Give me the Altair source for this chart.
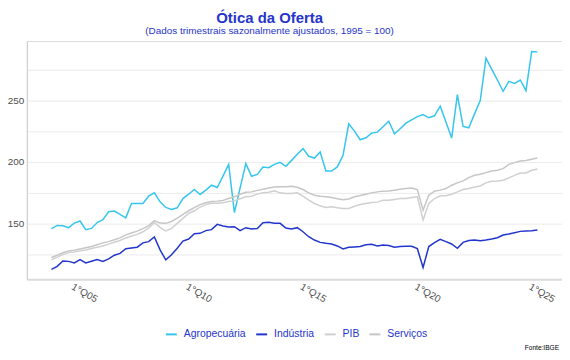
import altair as alt
import pandas as pd

# Quarterly series, 2004Q1 .. 2025Q2 (86 quarters), 1995 = 100
agro = [146.0, 148.6, 148.4, 146.8, 150.5, 152.2, 145.2, 146.2, 151.0, 153.2,
        159.7, 160.2, 157.5, 154.8, 166.4, 166.4, 166.4, 172.3, 175.0, 167.7,
        163.2, 161.6, 162.9, 170.4, 173.9, 177.7, 173.7, 177.2, 181.2, 179.3,
        188.5, 198.0, 159.0, 179.0, 198.7, 188.4, 190.0, 196.0, 195.4, 198.1,
        199.7, 196.5, 201.3, 206.2, 210.8, 204.6, 203.2, 208.1, 192.7, 192.7,
        196.0, 205.4, 230.9, 225.0, 218.0, 219.6, 223.4, 224.2, 228.5, 233.0,
        222.8, 226.9, 231.5, 234.1, 236.8, 238.4, 235.8, 237.4, 245.2, 232.3,
        219.4, 254.6, 228.8, 227.7, 239.0, 249.7, 284.1, 275.3, 266.4, 257.3,
        265.3, 263.7, 266.4, 257.8, 289.5, 289.2]

industria = [113.0, 115.5, 119.8, 119.5, 118.2, 121.0, 118.2, 119.6, 121.0, 119.4,
             121.5, 124.5, 126.0, 129.8, 130.4, 131.0, 134.5, 135.5, 139.3, 128.8,
             120.7, 124.8, 130.1, 136.0, 137.6, 141.9, 142.2, 144.4, 145.2, 149.5,
             148.1, 147.3, 147.6, 144.4, 146.8, 145.7, 146.2, 150.8, 151.1, 150.3,
             150.3, 146.5, 145.7, 146.8, 143.5, 139.5, 136.8, 134.9, 134.1, 133.6,
             132.0, 129.6, 130.9, 131.2, 131.5, 133.0, 133.3, 132.0, 132.8, 132.3,
             130.9, 131.5, 131.7, 131.7, 129.8, 114.5, 131.5, 134.7, 137.4, 135.5,
             133.6, 130.1, 134.9, 136.4, 136.8, 136.3, 136.8, 137.6, 138.7, 140.9,
             141.7, 142.7, 143.8, 144.1, 144.4, 144.9]

pib = [120.7, 123.0, 125.0, 126.6, 127.0, 128.0, 128.8, 130.0, 131.0, 132.0,
       133.5, 135.0, 136.4, 138.5, 140.0, 141.4, 143.5, 146.5, 151.0, 147.0,
       144.1, 146.2, 150.3, 154.3, 158.3, 160.5, 163.5, 165.5, 166.5, 166.5,
       166.9, 168.0, 168.5, 170.2, 171.8, 172.3, 174.0, 175.0, 175.5, 176.6,
       175.0, 174.4, 174.4, 175.0, 172.3, 169.1, 166.4, 164.5, 163.2, 163.7,
       162.9, 162.4, 162.4, 164.2, 165.6, 166.4, 167.2, 167.5, 169.1, 169.1,
       169.6, 170.4, 170.4, 171.2, 171.8, 153.0, 166.4, 170.4, 172.6, 172.6,
       173.9, 175.8, 177.7, 178.5, 179.8, 180.6, 183.1, 184.4, 184.7, 185.2,
       187.1, 189.2, 191.1, 191.1, 193.3, 194.4]

servicos = [122.6, 124.5, 126.5, 128.0, 128.5, 129.5, 130.5, 131.5, 133.0, 134.5,
            135.5, 137.0, 138.5, 141.0, 142.5, 144.0, 146.0, 148.5, 152.5, 150.5,
            150.3, 151.8, 154.5, 157.5, 160.5, 163.0, 165.5, 167.0, 168.0, 168.3,
            168.8, 170.5, 171.8, 173.9, 175.5, 175.8, 177.0, 178.0, 179.0, 179.8,
            180.0, 180.0, 180.3, 179.5, 177.7, 175.0, 173.1, 172.3, 171.8, 171.2,
            170.2, 169.5, 170.0, 171.8, 172.8, 173.9, 175.0, 175.8, 176.4, 176.5,
            177.2, 178.0, 178.5, 179.0, 177.7, 161.0, 173.1, 176.3, 177.2, 178.5,
            181.2, 183.1, 184.7, 187.4, 189.2, 190.1, 191.4, 192.7, 193.3, 194.6,
            198.1, 199.5, 200.8, 201.3, 202.2, 203.2]

series_names = ["Agropecuária", "Indústria", "PIB", "Serviços"]
series_colors = ["#36c5ee", "#2236cc", "#d0d0d0", "#c6c6c6"]
tick_pos = [4, 24, 44, 64, 84]
tick_labels = ["1°Q05", "1°Q10", "1°Q15", "1°Q20", "1°Q25"]
y_ticks = [125, 150, 175, 200, 225, 250, 275]

rows = []
for name, vals in zip(series_names, [agro, industria, pib, servicos]):
    for i, v in enumerate(vals):
        rows.append({"t": i, "v": v, "serie": name})
df = pd.DataFrame(rows)

blue = "#2535c9"
font = "Liberation Sans"
label_expr = (f"indexof({tick_pos}, datum.value) >= 0 ? "
              f"{tick_labels}[indexof({tick_pos}, datum.value)] : ''")

lines = alt.Chart(df).mark_line(strokeWidth=1.5).encode(
    x=alt.X("t:Q",
            scale=alt.Scale(domain=[-4.3, 89.3], nice=False, zero=False),
            axis=alt.Axis(values=tick_pos, labelExpr=label_expr, title=None,
                          labelAngle=30, labelAlign="left", labelBaseline="top",
                          ticks=False, grid=False, domainColor="#dcdcdc",
                          domainWidth=2, labelColor="#4d4d4d", labelFontSize=10,
                          labelFont=font, labelPadding=2)),
    y=alt.Y("v:Q",
            scale=alt.Scale(domain=[105, 298], nice=False, zero=False),
            axis=alt.Axis(values=y_ticks, title=None,
                          labelExpr="datum.value % 50 == 0 ? datum.label : ''",
                          ticks=False, grid=True, gridColor="#ebebeb",
                          domainColor="#cccccc", domainWidth=1,
                          labelColor="#4d4d4d", labelFontSize=10,
                          labelFont=font, labelPadding=3)),
    color=alt.Color("serie:N",
                    scale=alt.Scale(domain=series_names, range=series_colors),
                    legend=alt.Legend(title=None, orient="none", legendX=139,
                                      legendY=289, direction="horizontal",
                                      symbolType="stroke", symbolSize=121,
                                      symbolStrokeWidth=2, labelFontSize=10.5,
                                      labelColor=blue, labelFont=font,
                                      columnPadding=6, labelOffset=6)),
)

caption = alt.Chart(pd.DataFrame({"txt": ["Fonte:IBGE"]})).mark_text(
    align="right", baseline="alphabetic", fontSize=6.6, font=font, color="black"
).encode(x=alt.value(536), y=alt.value(311.5), text="txt:N")

chart = alt.layer(lines, caption).properties(
    width=539,
    height=240,
    title=alt.Title(text="Ótica da Oferta",
                    subtitle="(Dados trimestrais sazonalmente ajustados, 1995 = 100)",
                    anchor="middle", frame="group", dx=-25, offset=5,
                    fontSize=15, font=font, fontWeight="bold", color=blue,
                    subtitleFont=font, subtitleFontSize=10, subtitleColor=blue,
                    subtitlePadding=0),
    autosize=alt.AutoSizeParams(type="none"),
    padding={"left": 19, "top": 32, "right": 0, "bottom": 72},
).configure_view(stroke=None).configure(background="white")

chart.save("out.html", embed_options={"renderer": "svg", "actions": False})
